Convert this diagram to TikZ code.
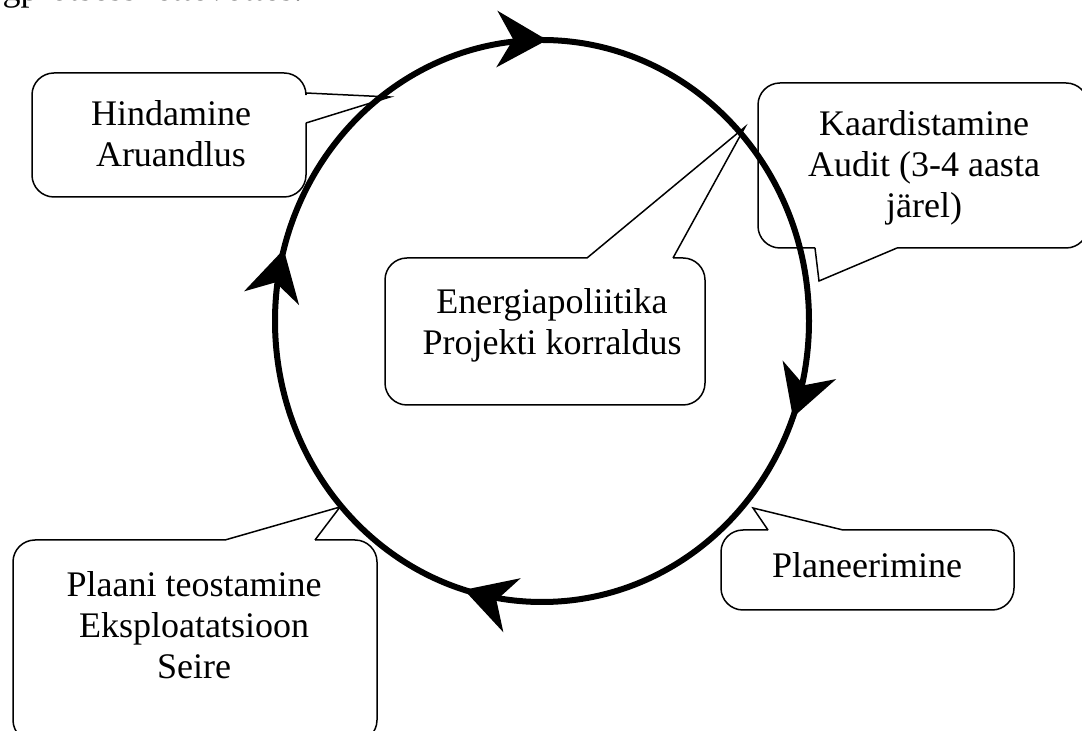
\documentclass[tikz,border=0pt]{standalone}
\usepackage{fontspec}
\setmainfont{Liberation Serif}
\usepackage{tikz}
\usetikzlibrary{arrows.meta, decorations.markings}
\tikzset{
  ringtip/.tip={Stealth[length=25pt, width=28pt, inset=8pt]},
  callbox/.style={draw, line width=0.75pt, rounded corners=11pt},
  ptr/.style={draw, line width=0.75pt, line join=miter},
  lbl/.style={font=\fontsize{18}{20.5}\selectfont, align=center, inner sep=0pt},
  ring/.style={
    draw, line width=3pt, postaction={decorate},
    decoration={markings,
      mark=at position 0.057 with {\arrow{ringtip}},
      mark=at position 0.296 with {\arrow{ringtip}},
      mark=at position 0.542 with {\arrow{ringtip}},
      mark=at position 0.753 with {\arrow{ringtip}}}
  }
}

\begin{document}
\begin{tikzpicture}[x=0.5pt, y=-0.5pt]
  \useasboundingbox (0,0) rectangle (1082,731);
  \clip (0,0) rectangle (1082,731);
  % cut-off line of the page text
  \node[font=\fontsize{18}{20.5}\selectfont, inner sep=0pt, anchor=base east]
    (intro) at (303,1) {ringprotsessi ettevõttes.};
  % cycle
  \draw[ring] (542,321) ellipse [x radius=267, y radius=281];
  % pointer tips on the ring
  \coordinate (hindtip) at (390,97);
  \coordinate (kaardtip) at (819,281);
  \coordinate (energtip) at (745,127);
  \coordinate (plantip) at (753,508);
  \coordinate (plaanitip) at (340,507);
  % texts
  \node[lbl] (hind) at (171,134) {Hindamine\\Aruandlus};
  \node[lbl] (kaard) at (924,168) {Kaardistamine\\Audit (3-4 aasta\\järel)};
  \node[lbl] (energ) at (552,325) {Energiapoliitika\\Projekti korraldus};
  \node[lbl] (plan) at (867,565) {Planeerimine};
  \node[lbl] (plaani) at (194,625) {Plaani teostamine\\Eksploatatsioon\\Seire};
  % Hindamine
  \draw[callbox] (306,123) -- (306,197) -- (32,197) -- (32,73) -- (306,73) -- (306,93);
  \draw[ptr] (306,93) -- (hindtip) -- (306,123);
  % Kaardistamine
  \draw[callbox] (897,248) -- (1088,248) -- (1088,83) -- (758,83) -- (758,248) -- (815,248);
  \draw[ptr] (815,248) -- (kaardtip) -- (897,248);
  % Energiapoliitika
  \draw[callbox] (673,258) -- (705,258) -- (705,405) -- (385,405) -- (385,258) -- (587,258);
  \draw[ptr] (587,258) -- (energtip) -- (673,258);
  % Planeerimine
  \draw[callbox] (843,530) -- (1014,530) -- (1014,610) -- (721,610) -- (721,530) -- (768,530);
  \draw[ptr] (768,530) -- (plantip) -- (843,530);
  % Plaani teostamine
  \draw[callbox] (315,540) -- (377,540) -- (377,742) -- (13,742) -- (13,540) -- (225,540);
  \draw[ptr] (225,540) -- (plaanitip) -- (315,540);
\end{tikzpicture}
\end{document}
